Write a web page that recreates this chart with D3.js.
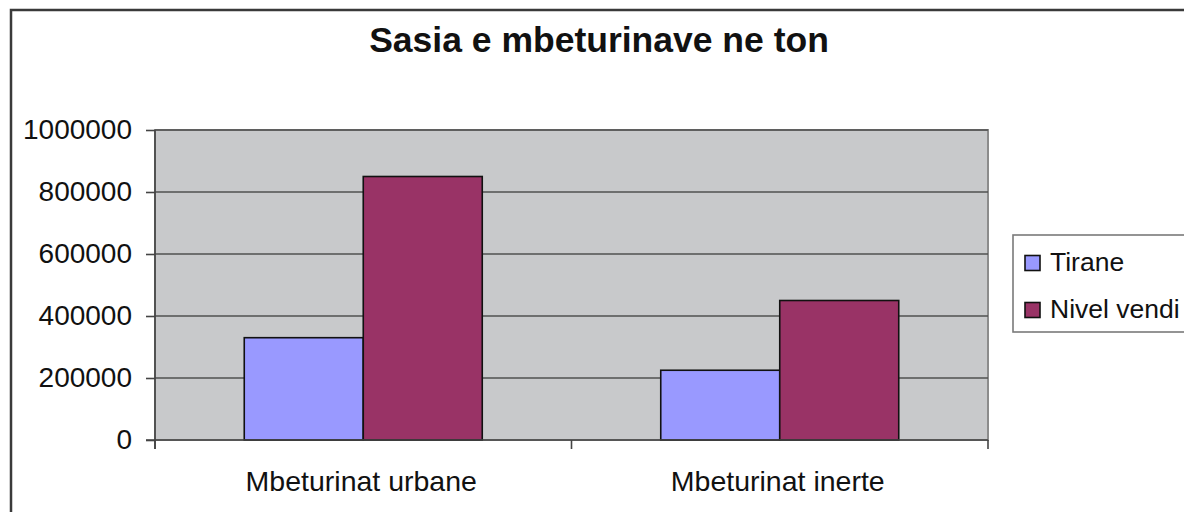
<!DOCTYPE html>
<html>
<head>
<meta charset="utf-8">
<script src="https://cdn.jsdelivr.net/npm/d3@7"></script>
<style>
  html, body { margin: 0; padding: 0; background: #fff; }
  svg { display: block; }
  text { font-family: "Liberation Sans", Arial, sans-serif; fill: #111; }
</style>
</head>
<body>
<script>
const categories = ["Mbeturinat urbane", "Mbeturinat inerte"];
const seriesNames = ["Tirane", "Nivel vendi"];
const tirane = [330000, 225000];
const nivelVendi = [850000, 450000];
const yTicks = [0, 200000, 400000, 600000, 800000, 1000000];
const seriesColors = ["#9999ff", "#993366"];
const titleText = "Sasia e mbeturinave ne ton";

const W = 1184, H = 512;
const plot = { left: 155, top: 130, right: 988, bottom: 440 };

const svg = d3.select("body").append("svg").attr("width", W).attr("height", H);

// outer chart border
svg.append("rect")
  .attr("x", 11).attr("y", 10).attr("width", W + 20).attr("height", H + 20)
  .attr("fill", "#fff").attr("stroke", "#3a3a3a").attr("stroke-width", 2.5);

// title
svg.append("text")
  .attr("x", 599).attr("y", 52)
  .attr("text-anchor", "middle")
  .attr("font-size", 35.5).attr("font-weight", "bold")
  .text(titleText);

const y = d3.scaleLinear().domain([0, 1000000]).range([plot.bottom, plot.top]);
const x0 = d3.scaleBand().domain(categories).range([plot.left, plot.right]).padding(0);
const x1 = d3.scaleBand().domain(seriesNames).range([0, x0.bandwidth()]).paddingInner(0).paddingOuter(0.75);

// plot background
svg.append("rect")
  .attr("x", plot.left).attr("y", plot.top)
  .attr("width", plot.right - plot.left).attr("height", plot.bottom - plot.top)
  .attr("fill", "#c8c9cb").attr("stroke", "#8c8c8c").attr("stroke-width", 2);

// gridlines
svg.append("g").selectAll("line").data(yTicks.filter(d => d > 0)).join("line")
  .attr("x1", plot.left).attr("x2", plot.right)
  .attr("y1", d => y(d)).attr("y2", d => y(d))
  .attr("stroke", "#505050").attr("stroke-width", 1.6);

// bars
const rows = categories.map((c, i) => ({ cat: c, values: [tirane[i], nivelVendi[i]] }));
const gBars = svg.append("g");
rows.forEach(r => {
  r.values.forEach((v, j) => {
    gBars.append("rect")
      .attr("x", x0(r.cat) + x1(seriesNames[j]))
      .attr("y", y(v))
      .attr("width", x1.bandwidth())
      .attr("height", y(0) - y(v))
      .attr("fill", seriesColors[j])
      .attr("stroke", "#111").attr("stroke-width", 1.6);
  });
});

// y axis
const yAxis = svg.append("g")
  .attr("transform", `translate(${plot.left},0)`)
  .call(d3.axisLeft(y).tickValues(yTicks).tickSize(9).tickPadding(14).tickFormat(d3.format("d")));
yAxis.select(".domain").attr("stroke", "#444").attr("stroke-width", 1.6)
  .attr("d", `M0,${plot.top}V${plot.bottom + 9}`);
yAxis.selectAll(".tick line").attr("stroke", "#444").attr("stroke-width", 1.6);
yAxis.selectAll(".tick text")
  .attr("font-size", 28).attr("fill", "#111")
  .attr("font-family", "'Liberation Sans', Arial, sans-serif");

// x axis
const xAxisG = svg.append("g");
xAxisG.append("line")
  .attr("x1", plot.left - 9).attr("x2", plot.right)
  .attr("y1", y(0)).attr("y2", y(0))
  .attr("stroke", "#444").attr("stroke-width", 1.6);
const boundaries = categories.map(c => x0(c)).concat([x0(categories[categories.length - 1]) + x0.bandwidth()]);
xAxisG.selectAll("line.tk").data(boundaries).join("line").attr("class", "tk")
  .attr("x1", d => d).attr("x2", d => d)
  .attr("y1", y(0)).attr("y2", y(0) + 9)
  .attr("stroke", "#444").attr("stroke-width", 1.6);
xAxisG.selectAll("text").data(categories).join("text")
  .attr("x", d => x0(d) + x0.bandwidth() / 2 - 2)
  .attr("y", 491)
  .attr("text-anchor", "middle")
  .attr("font-size", 28.5)
  .text(d => d);

// legend
const lg = svg.append("g");
lg.append("rect")
  .attr("x", 1013).attr("y", 235).attr("width", 220).attr("height", 97)
  .attr("fill", "#fff").attr("stroke", "#7a7a7a").attr("stroke-width", 1.6);
seriesNames.forEach((s, i) => {
  const cy = 263 + i * 47;
  lg.append("rect")
    .attr("x", 1025).attr("y", cy - 7.5).attr("width", 15).attr("height", 15)
    .attr("fill", seriesColors[i]).attr("stroke", "#111").attr("stroke-width", 1.6);
  lg.append("text")
    .attr("x", 1050).attr("y", cy + 7.5)
    .attr("font-size", 26.5)
    .text(s);
});
</script>
</body>
</html>
